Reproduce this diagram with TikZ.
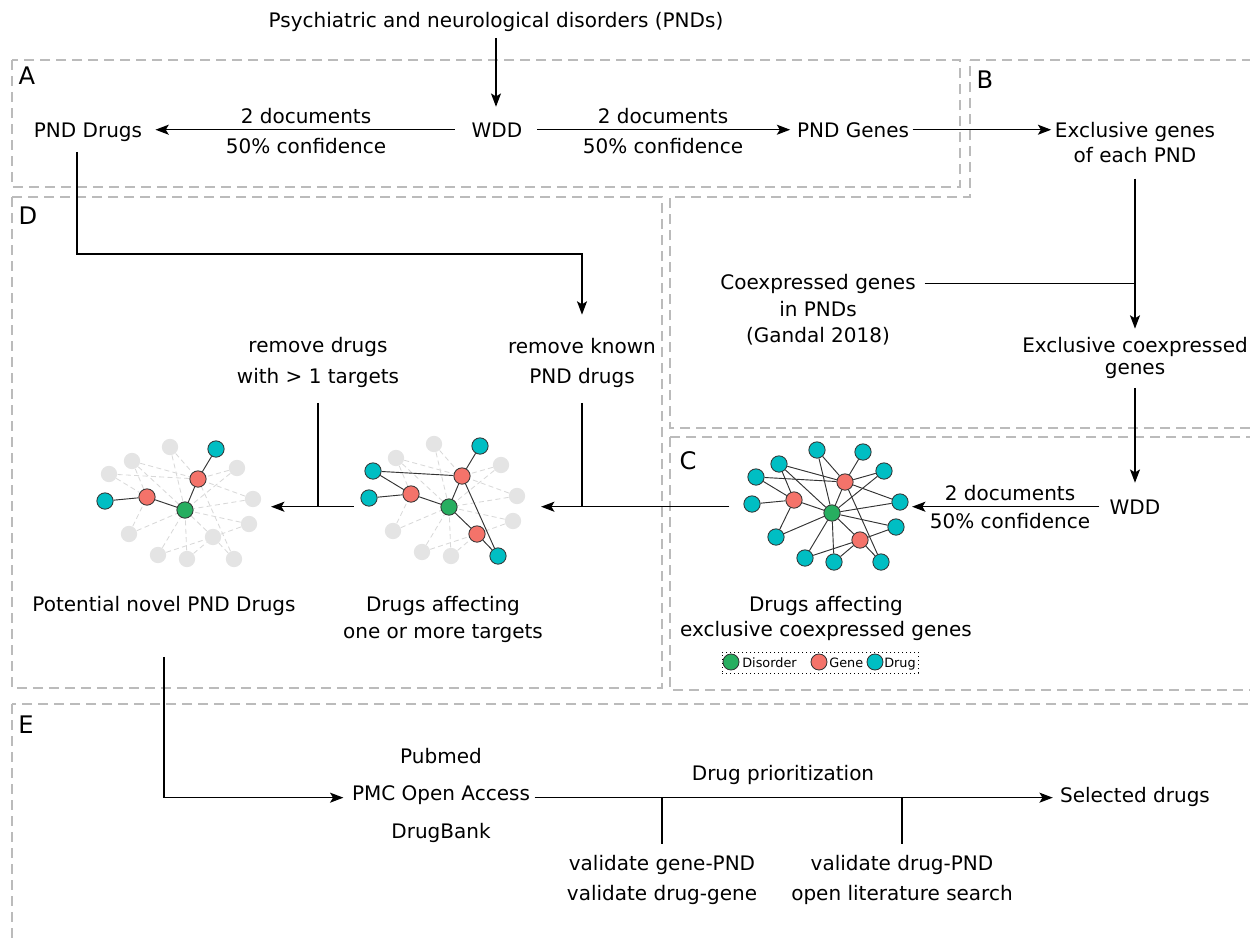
\documentclass[tikz,border=0pt]{standalone}
\usepackage{fontspec}
\setmainfont{DejaVu Sans}
\usetikzlibrary{arrows.meta,backgrounds}

\definecolor{panelline}{HTML}{BBBBBB}
\definecolor{colDis}{HTML}{27AE60}
\definecolor{colGene}{HTML}{F4736A}
\definecolor{colDrug}{HTML}{00BEC3}
\definecolor{colLink}{HTML}{333333}
\definecolor{colFaint}{HTML}{E4E4E4}
\definecolor{colFaintLink}{HTML}{D8D8D8}

% layout of the interaction network, offsets from the disorder node
\def\netpos{g/0/0/dis, r1/13/-31/gene, r2/-38/-13/gene, r3/28/27/gene,
  c1/-15/-63/drug, c2/31/-61/drug, c3/-53/-49/drug, c4/52/-42/drug,
  c5/-76/-36/drug, c6/-80/-9/drug, c7/68/-11/drug, c8/64/14/drug,
  c9/-56/24/drug, c10/-27/45/drug, c11/2/49/drug, c12/49/49/drug}
\def\netlinks{g/r1, g/r2, g/r3, c1/g, c1/r1, c2/r1, c3/g, c3/r1, c3/r2,
  c4/r1, c4/g, c5/r1, c5/r2, c6/r2, c7/r1, c7/g, c8/g, c8/r3, c9/r2, c9/g,
  c10/g, c10/r3, c11/g, c11/r3, c12/r3, c12/r1}
\def\midlinks{c2/r1, c5/r1, c5/r2, c6/r2, r2/g, r1/g, g/r3, r3/c12, r1/c12}
\def\leftlinks{c2/r1, r1/g, g/r2, r2/c6}

% #1 name prefix, #2 centre, #3 highlighted links, #4 styles for dimmed nodes
\newcommand\drawnet[4]{%
  \begin{scope}[shift={#2}, #4]
    \foreach \n/\dx/\dy/\t in \netpos
      \node[\t, dim\n/.try] (#1\n) at (\dx,\dy) {};
  \end{scope}
  \begin{pgfonlayer}{background}
    \foreach \a/\b in \netlinks \draw[faintlink] (#1\a) -- (#1\b);
    \foreach \a/\b in #3 \draw[link] (#1\a) -- (#1\b);
  \end{pgfonlayer}%
}

\tikzset{
  netnode/.style={circle, minimum size=9.8pt, inner sep=0pt, draw=colLink, line width=0.5pt},
  dis/.style={netnode, fill=colDis},
  gene/.style={netnode, fill=colGene},
  drug/.style={netnode, fill=colDrug},
  faintnode/.style={fill=colFaint, draw=none},
  link/.style={draw=colLink, line width=0.55pt},
  faintlink/.style={draw=colFaintLink, line width=0.5pt, densely dashed},
  txt/.style={font=\fontsize{12pt}{14pt}\selectfont, anchor=base, inner sep=0pt},
  letter/.style={font=\fontsize{14.5pt}{16pt}\selectfont, anchor=base, inner sep=0pt},
  legtxt/.style={font=\fontsize{7.7pt}{9pt}\selectfont, anchor=base west, inner sep=0pt},
  region/.style={draw=panelline, line width=0.8pt, dash pattern=on 6pt off 3.6pt},
  line/.style={draw=black, line width=0.9pt},
  arr/.style={line, -{Stealth[length=8pt, width=6pt, inset=1.8pt]}},
}

\begin{document}
\begin{tikzpicture}[x=0.6pt, y=-0.6pt]
\useasboundingbox (0,0) rectangle (1250,937);

% panel frames
\draw[region] (12,60) rectangle (960,187);
\draw[region] (970,60) -- (1270,60) -- (1270,428) -- (670,428) -- (670,197) -- (970,197) -- cycle;
\draw[region] (12,197) rectangle (662,688);
\draw[region] (670,437) rectangle (1270,690);
\draw[region] (12,704) rectangle (1270,960);

\node[letter] (pA) at (27,84) {A};
\node[letter] (pB) at (985,88) {B};
\node[letter] (pC) at (688,469) {C};
\node[letter] (pD) at (28,224) {D};
\node[letter] (pE) at (26,733) {E};

% texts
\node[txt] (title) at (496,27) {Psychiatric and neurological disorders (PNDs)};
\node[txt] (wdd) at (497,137) {WDD};
\node[txt] (pnddrugs) at (88,137) {PND Drugs};
\node[txt] (pndgenes) at (853,137) {PND Genes};
\node[txt] (docsL) at (306,123) {2 documents};
\node[txt] (confL) at (306,153) {50\% confidence};
\node[txt] (docsR) at (663,123) {2 documents};
\node[txt] (confR) at (663,153) {50\% confidence};
\node[txt] (excl1) at (1135,137) {Exclusive genes};
\node[txt] (excl2) at (1135,162) {of each PND};
\node[txt] (coex1) at (818,289) {Coexpressed genes};
\node[txt] (coex2) at (818,316) {in PNDs};
\node[txt] (coex3) at (818,342) {(Gandal 2018)};
\node[txt] (exco1) at (1135,352) {Exclusive coexpressed};
\node[txt] (exco2) at (1135,374) {genes};
\node[txt] (wdd2) at (1135,514) {WDD};
\node[txt] (docsC) at (1010,500) {2 documents};
\node[txt] (confC) at (1010,528) {50\% confidence};
\node[txt] (known1) at (582,353) {remove known};
\node[txt] (known2) at (582,383) {PND drugs};
\node[txt] (multi1) at (318,352) {remove drugs};
\node[txt] (multi2) at (318,383) {with > 1 targets};
\node[txt] (capC1) at (826,611) {Drugs affecting};
\node[txt] (capC2) at (826,636) {exclusive coexpressed genes};
\node[txt] (capM1) at (443,611) {Drugs affecting};
\node[txt] (capM2) at (443,638) {one or more targets};
\node[txt] (novel) at (164,611) {Potential novel PND Drugs};
\node[txt] (pubmed) at (441,763) {Pubmed};
\node[txt] (pmc) at (441,800) {PMC Open Access};
\node[txt] (drugbank) at (441,838) {DrugBank};
\node[txt] (prio) at (783,780) {Drug prioritization};
\node[txt] (selected) at (1135,802) {Selected drugs};
\node[txt] (valGP) at (662,870) {validate gene-PND};
\node[txt] (valDG) at (662,900) {validate drug-gene};
\node[txt] (valDP) at (902,870) {validate drug-PND};
\node[txt] (openlit) at (902,900) {open literature search};

% networks
\drawnet{C}{(832,513)}{\netlinks}{}
\drawnet{M}{(449,507)}{\midlinks}{dimc1/.style=faintnode, dimc3/.style=faintnode,
  dimc4/.style=faintnode, dimc7/.style=faintnode, dimc8/.style=faintnode,
  dimc9/.style=faintnode, dimc10/.style=faintnode, dimc11/.style=faintnode}
\drawnet{L}{(185,510)}{\leftlinks}{dimr3/.style=faintnode, dimc1/.style=faintnode,
  dimc3/.style=faintnode, dimc4/.style=faintnode, dimc5/.style=faintnode,
  dimc7/.style=faintnode, dimc8/.style=faintnode, dimc9/.style=faintnode,
  dimc10/.style=faintnode, dimc11/.style=faintnode, dimc12/.style=faintnode}

% legend
\node[draw=black, dotted, line width=0.4pt, minimum width=117.6pt, minimum height=12.6pt, inner sep=0pt] (legend) at (820,662.5) {};
\node[dis, minimum size=9.6pt] (keyDis) at (731,662) {};
\node[legtxt] (keyDisT) at (742,667) {Disorder};
\node[gene, minimum size=9.6pt] (keyGene) at (819,662) {};
\node[legtxt] (keyGeneT) at (829,667) {Gene};
\node[drug, minimum size=9.6pt] (keyDrug) at (875,662) {};
\node[legtxt] (keyDrugT) at (884,667) {Drug};

% connectors
\draw[arr, shorten <=3.8pt, shorten >=9.2pt] (title.south) -- (title.south |- wdd.north);
\draw[arr, shorten <=10pt, shorten >=7.8pt] (wdd.west) -- (wdd.west -| pnddrugs.east);
\draw[arr, shorten <=8.8pt, shorten >=3.9pt] (wdd.east) -- (wdd.east -| pndgenes.west);
\draw[arr, shorten <=2pt, shorten >=2pt] (pndgenes.east) -- (pndgenes.east -| excl1.west);
\draw[arr, shorten <=9.6pt, shorten >=4.7pt] (excl2.south) -- (excl2.south |- exco1.north);
\draw[line, shorten <=5.2pt] (coex1.east) -- (coex1.east -| excl2.south);
\draw[arr, shorten <=5.6pt, shorten >=9.8pt] (exco2.south) -- (exco2.south |- wdd2.north);
\draw[arr, shorten <=6pt, shorten >=2.1pt] (wdd2.west) -- (wdd2.west -| Cc7.east);
\draw[arr, shorten <=8.5pt, shorten >=9.3pt] (Cc6.west |- wdd2.west) -- (Mc7.east |- wdd2.west);
\draw[line, shorten <=9.2pt] (known2.south) -- (known2.south |- wdd2.west);
\draw[line, shorten <=9.2pt] (multi2.south) -- (multi2.south |- wdd2.west);
\draw[arr, shorten <=3.9pt, shorten >=5.7pt] (Mc6.west |- wdd2.west) -- (Lc7.east |- wdd2.west);
\coordinate (dturn) at (0,254);
\draw[arr, shorten <=6.2pt, shorten >=13.7pt] ([xshift=-6.6pt]pnddrugs.south) |- (known1.north |- dturn) -- (known1.north);
\coordinate (pmcL) at ([yshift=-1.8pt]pmc.west);
\coordinate (pmcR) at ([yshift=-1.8pt]pmc.east);
\draw[arr, shorten <=24.8pt, shorten >=5pt] (novel.south) |- (pmcL);
\draw[arr, shorten <=2.6pt, shorten >=4.2pt] (pmcR) -- (pmcR -| selected.west);
\draw[line, shorten <=6.5pt] (valGP.north) -- (valGP.north |- pmcR);
\draw[line, shorten <=6.5pt] (valDP.north) -- (valDP.north |- pmcR);
\end{tikzpicture}
\end{document}
